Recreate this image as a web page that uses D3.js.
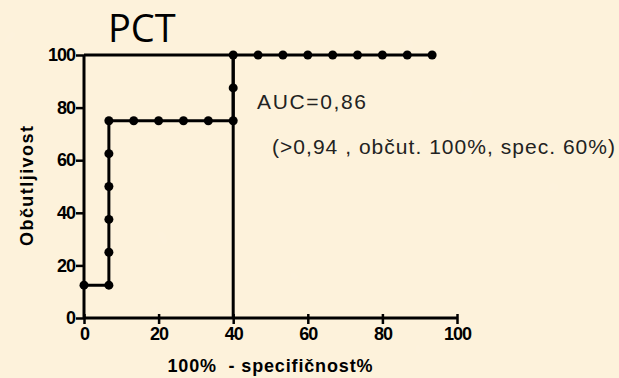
<!DOCTYPE html>
<html>
<head>
<meta charset="utf-8">
<script src="https://cdn.jsdelivr.net/npm/d3@7"></script>
<style>
  html, body { margin: 0; padding: 0; background: #fcf0d8; }
  svg { display: block; }
</style>
</head>
<body>
<svg id="chart" width="619" height="378"></svg>
<script>
// ROC curve for PCT: x = 100% - specificity, y = sensitivity
const fpr = [0, 6.67, 6.67, 6.67, 6.67, 6.67, 6.67, 13.33, 20, 26.67, 33.33, 40, 40, 40,
             46.67, 53.33, 60, 66.67, 73.33, 80, 86.67, 93.33];
const sens = [12.5, 12.5, 25, 37.5, 50, 62.5, 75, 75, 75, 75, 75, 75, 87.5, 100,
              100, 100, 100, 100, 100, 100, 100, 100];

// cut-off guide: top edge and vertical at 40%
const guideX = [0, 40, 40];
const guideY = [100, 100, 0];

const xTicks = [0, 20, 40, 60, 80, 100];
const yTicks = [0, 20, 40, 60, 80, 100];

const title = "PCT";
const xLabel = "100%  - specifičnost%";
const yLabel = "Občutljivost";
const aucText = "AUC=0,86";
const cutText = "(>0,94 , občut. 100%, spec. 60%)";

const svg = d3.select("#chart");

// soft mottled paper background
const defs = svg.append("defs");
const filt = defs.append("filter").attr("id", "paper").attr("x", 0).attr("y", 0)
  .attr("width", "100%").attr("height", "100%");
filt.append("feTurbulence").attr("type", "fractalNoise").attr("baseFrequency", 0.035)
  .attr("numOctaves", 2).attr("seed", 3).attr("result", "n");
filt.append("feColorMatrix").attr("in", "n").attr("type", "matrix")
  .attr("values", "0 0 0 0 0.96  0 0 0 0 0.89  0 0 0 0 0.76  0 0 0 0.09 0");
svg.append("rect").attr("width", 619).attr("height", 378).attr("fill", "#fdf2db");
svg.append("rect").attr("width", 619).attr("height", 378).attr("filter", "url(#paper)");

const x = d3.scaleLinear().domain([0, 100]).range([84, 457]);
const y = d3.scaleLinear().domain([0, 100]).range([318, 55]);

const tickFont = "'Liberation Sans', Arial, sans-serif";

// axes
const xAxis = svg.append("g").attr("transform", `translate(0,${y(0)})`)
  .call(d3.axisBottom(x).tickValues(xTicks).tickSize(6).tickSizeOuter(0).tickFormat(d3.format("d")));
const yAxis = svg.append("g").attr("transform", `translate(${x(0)},0)`)
  .call(d3.axisLeft(y).tickValues(yTicks).tickSize(6).tickSizeOuter(0).tickFormat(d3.format("d")));

[xAxis, yAxis].forEach(g => {
  g.select(".domain").attr("stroke", "#000").attr("stroke-width", 3);
  g.selectAll(".tick line").attr("stroke", "#000").attr("stroke-width", 2.5);
  g.selectAll(".tick text").attr("fill", "#000")
    .style("font-family", tickFont).style("font-weight", "bold").style("font-size", "18px")
    .style("letter-spacing", "-1px");
});
// x ticks cross the axis line
xAxis.selectAll(".tick line").attr("y1", -4).attr("y2", 6);
xAxis.selectAll(".tick text").attr("dy", "0.71em").attr("y", 9);
yAxis.selectAll(".tick line").attr("x1", 0).attr("x2", -8);
yAxis.selectAll(".tick text").attr("x", -9);
xAxis.select(".domain").attr("d", `M${x(0)},0H${x(100)}`);
yAxis.select(".domain").attr("d", `M0,${y(0)}V${y(100)}`);

// guide lines
const guide = guideX.map((v, i) => [v, guideY[i]]);
svg.append("path").datum(guide)
  .attr("d", d3.line().x(d => x(d[0])).y(d => y(d[1])))
  .attr("fill", "none").attr("stroke", "#000").attr("stroke-width", 3);

// ROC line and markers
const pts = fpr.map((v, i) => [v, sens[i]]);
svg.append("path").datum(pts)
  .attr("d", d3.line().x(d => x(d[0])).y(d => y(d[1])))
  .attr("fill", "none").attr("stroke", "#000").attr("stroke-width", 3);
svg.append("g").selectAll("circle").data(pts).join("circle")
  .attr("cx", d => x(d[0])).attr("cy", d => y(d[1])).attr("r", 4.5).attr("fill", "#000");

// labels
svg.append("text").attr("x", 108).attr("y", 42).text(title)
  .style("font-family", "'Open Sans', 'Noto Sans', sans-serif").style("font-size", "38px").attr("fill", "#000");

svg.append("text").attr("x", 270).attr("y", 372).attr("text-anchor", "middle").text(xLabel)
  .style("font-family", tickFont).style("font-weight", "bold").style("font-size", "18px")
  .style("white-space", "pre").attr("textLength", 205).attr("fill", "#000");

svg.append("text").attr("transform", `translate(33,${186}) rotate(-90)`).attr("text-anchor", "middle")
  .text(yLabel).style("font-family", tickFont).style("font-weight", "bold").style("font-size", "18px")
  .attr("textLength", 120).attr("fill", "#000");

svg.append("text").attr("x", 257).attr("y", 109).text(aucText)
  .style("font-family", "'Liberation Sans', Arial, sans-serif").style("font-size", "21px")
  .attr("textLength", 109).attr("fill", "#222");
svg.append("text").attr("x", 272).attr("y", 154).text(cutText)
  .style("font-family", "'Liberation Sans', Arial, sans-serif").style("font-size", "21px")
  .attr("textLength", 343).attr("fill", "#222");
</script>
</body>
</html>
